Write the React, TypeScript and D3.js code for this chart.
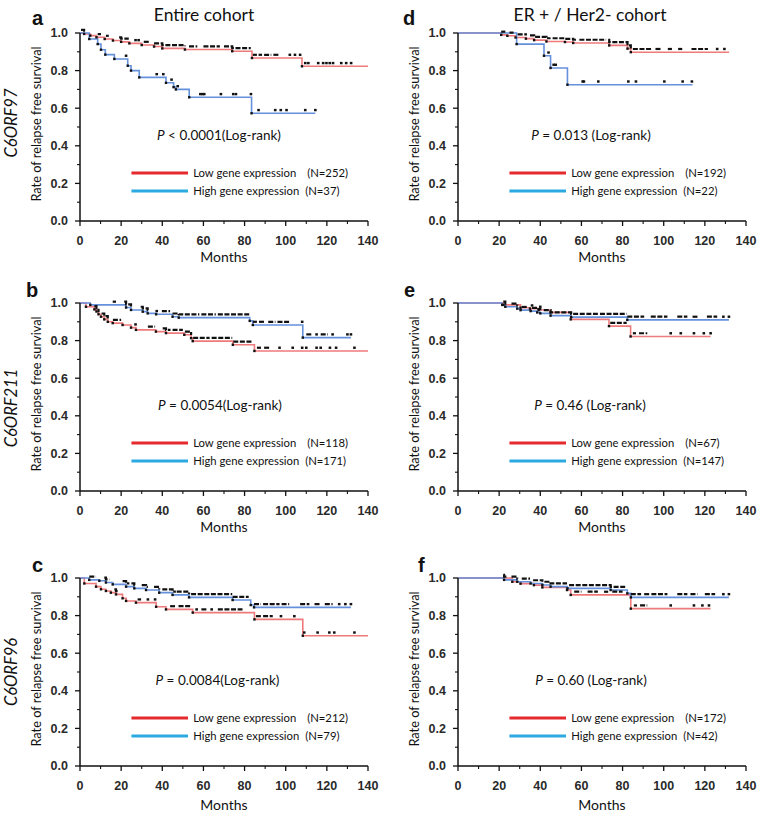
import * as d3 from "d3";

type Pt = [number, number];
type Run = [number, number];

// axis ticks
const MONTH_TICKS = [0, 20, 40, 60, 80, 100, 120, 140];
const MONTH_MINOR = [10, 30, 50, 70, 90, 110, 130];
const RATE_TICKS = [0, 0.2, 0.4, 0.6, 0.8, 1.0];
const RATE_MINOR = [0.1, 0.3, 0.5, 0.7, 0.9];

// ---- a: C6ORF97, entire cohort ----
const A_LOW_STEPS: Pt[] = [[0, 1], [2, 0.995], [5, 0.986], [8, 0.977], [12, 0.968], [16, 0.96], [20, 0.953], [24, 0.945], [30, 0.936], [36, 0.928], [40, 0.918], [51, 0.912], [74, 0.903], [83.6, 0.867], [107.9, 0.823]];
const A_LOW_RUNS: Run[] = [[0.5, 3], [8.6, 10.2], [12.6, 14], [19, 23.7], [31, 34], [36, 51], [53, 57], [60, 68], [70, 83], [84, 86], [86.8, 88.5], [89.5, 93], [94, 97]];
const A_LOW_MARKS = [27, 28.5, 102, 104.5, 107, 109.5, 111, 115.8, 118.2, 119.8, 121.4, 123, 127, 129.4, 131.8];
const A_HIGH_STEPS: Pt[] = [[0, 1], [4.5, 0.968], [8.6, 0.941], [10.2, 0.911], [12.3, 0.885], [16.7, 0.862], [23.2, 0.826], [24.8, 0.8], [28.8, 0.764], [41.8, 0.735], [45.5, 0.712], [46.6, 0.7], [53.1, 0.658], [83.4, 0.573]];
const A_HIGH_RUNS: Run[] = [];
const A_HIGH_MARKS = [22.4, 37.3, 40.5, 44.5, 47.5, 58.5, 59.5, 60.4, 68.5, 74.5, 75.8, 83.1, 86.8, 94.9, 97.6, 100.4, 109.5, 114.4];

// ---- b: C6ORF211, entire cohort ----
const B_LOW_STEPS: Pt[] = [[0, 1], [2.9, 0.98], [7, 0.966], [8, 0.955], [9, 0.94], [10.2, 0.927], [11.8, 0.913], [13.5, 0.9], [15.9, 0.893], [20.7, 0.883], [24.8, 0.869], [27.2, 0.857], [36.9, 0.848], [41.8, 0.84], [50.7, 0.831], [54, 0.813], [54.8, 0.797], [74.3, 0.778], [84.8, 0.745]];
const B_LOW_RUNS: Run[] = [[7, 9.5], [10.5, 13.5], [16, 20], [33, 36.5], [40.2, 44], [45, 50], [51, 54], [55, 63], [64, 74], [74.5, 84], [86, 88], [89.5, 92]];
const B_LOW_MARKS = [27, 97, 103.4, 108, 110, 115, 117, 121.5, 124.5, 133.4];
const B_HIGH_STEPS: Pt[] = [[0, 1], [5, 0.99], [22.4, 0.976], [24.8, 0.963], [30.5, 0.954], [32.9, 0.945], [37, 0.94], [45, 0.927], [48, 0.922], [82.5, 0.905], [84, 0.883], [108.3, 0.816]];
const B_HIGH_RUNS: Run[] = [[15.9, 17.5], [21.5, 25], [29.5, 33], [39.8, 43.8], [45, 58], [59, 66], [67, 82.3], [84, 86], [87, 90], [91.5, 95], [96, 101.7], [110, 113], [117, 120.5]];
const B_HIGH_MARKS = [37.3, 108, 115, 122.8, 130, 131.7];

// ---- c: C6ORF96, entire cohort ----
const C_LOW_STEPS: Pt[] = [[0, 1], [2.1, 0.971], [7.8, 0.954], [10.2, 0.94], [12.6, 0.931], [15, 0.922], [17.5, 0.913], [20.7, 0.892], [22.4, 0.878], [27.2, 0.869], [37, 0.847], [41.8, 0.833], [54.8, 0.816], [84.8, 0.78], [108.3, 0.693]];
const C_LOW_RUNS: Run[] = [[16.7, 18.3], [28, 29.7], [43.8, 46.2], [47.9, 54.3], [59, 62], [67, 79], [85.5, 88], [89, 93.7]];
const C_LOW_MARKS = [33, 36.5, 56.7, 64, 97.7, 104.2, 109, 115.5, 121.2, 123.6, 133.4];
const C_HIGH_STEPS: Pt[] = [[0, 1], [4.5, 0.99], [9.4, 0.985], [12.6, 0.976], [15.9, 0.966], [22.4, 0.954], [26.4, 0.945], [32.1, 0.936], [38.5, 0.922], [45, 0.91], [53, 0.897], [74.2, 0.883], [83, 0.856], [84.6, 0.844]];
const C_HIGH_RUNS: Run[] = [[4.5, 7.8], [11.8, 14.3], [20.7, 24], [25, 27], [30, 33], [36, 38.5], [40, 46.6], [47, 53], [54, 74], [74.2, 82], [84.6, 88], [89, 97], [98, 101.7], [107, 111.5], [114, 117], [119, 122.8]];
const C_HIGH_MARKS = [126, 129, 131.7];

// ---- d: C6ORF97, ER+/Her2- ----
const D_LOW_STEPS: Pt[] = [[0, 1], [21, 0.99], [24, 0.985], [28, 0.976], [33, 0.97], [37, 0.962], [43, 0.955], [52, 0.952], [56, 0.947], [73.5, 0.934], [82.4, 0.917], [84, 0.898]];
const D_LOW_RUNS: Run[] = [[21, 23], [25, 27], [29, 33], [35, 45], [46, 58], [59, 72], [73, 84], [85, 94.5], [96, 99], [102, 104], [107, 109], [113.5, 121.5]];
const D_LOW_MARKS = [126, 129.5];
const D_HIGH_STEPS: Pt[] = [[0, 1], [28.5, 0.941], [41.8, 0.879], [45, 0.814], [53.2, 0.725]];
const D_HIGH_RUNS: Run[] = [];
const D_HIGH_MARKS = [44, 46.5, 47.5, 60.6, 61.2, 68.2, 82.8, 86.5, 100.3, 109.2, 113.7];

// ---- e: C6ORF211, ER+/Her2- ----
const E_LOW_STEPS: Pt[] = [[0, 1], [22, 0.99], [30.4, 0.975], [35, 0.97], [39.3, 0.963], [45, 0.95], [54.8, 0.913], [73.4, 0.877], [83.9, 0.822]];
const E_LOW_RUNS: Run[] = [[74, 82], [85, 86.5], [88, 92]];
const E_LOW_MARKS = [36, 40, 103.4, 108.3, 114.7, 119.5, 122.8];
const E_HIGH_STEPS: Pt[] = [[0, 1], [21.5, 0.99], [23, 0.98], [28.8, 0.97], [30.4, 0.962], [35.3, 0.957], [38.5, 0.95], [40, 0.945], [45, 0.933], [55, 0.925], [82.3, 0.91]];
const E_HIGH_RUNS: Run[] = [[22, 24], [26, 29], [31, 34], [36, 40], [41.7, 53], [53.5, 68], [69, 82], [82.3, 90.5], [93.7, 101.8], [106.6, 111.5], [114, 116.4], [121, 126]];
const E_HIGH_MARKS = [129, 131.7];

// ---- f: C6ORF96, ER+/Her2- ----
const F_LOW_STEPS: Pt[] = [[0, 1], [26.4, 0.98], [30.4, 0.97], [36.9, 0.962], [41, 0.95], [53, 0.936], [54.8, 0.91], [84, 0.837]];
const F_LOW_RUNS: Run[] = [[56.5, 60], [63, 68], [71, 73], [75, 80], [85.5, 87], [88.5, 92]];
const F_LOW_MARKS = [103.4, 114.7, 118.8, 122];
const F_HIGH_STEPS: Pt[] = [[0, 1], [22.4, 0.99], [28.8, 0.98], [35.3, 0.971], [41, 0.963], [45, 0.954], [53.2, 0.945], [74.2, 0.936], [82.3, 0.918], [84, 0.897]];
const F_HIGH_RUNS: Run[] = [[22, 24], [26, 29], [31, 35], [36.5, 41], [42, 53], [54, 82], [84, 89], [90.5, 93], [94, 101.8], [106.6, 111.5], [113, 116.4], [120, 125]];
const F_HIGH_MARKS = [129, 131.7];

// last follow-up month of each curve
const CURVE_ENDS = { a: [140, 114.4], b: [140, 131.7], c: [140, 131.7], d: [131.8, 114], e: [122.8, 131.7], f: [122.8, 131.7] };
const GROUP_N = { a: [252, 37], b: [118, 171], c: [212, 79], d: [192, 22], e: [67, 147], f: [172, 42] };
const P_TEXT = { a: "< 0.0001(Log-rank)", b: "= 0.0054(Log-rank)", c: "= 0.0084(Log-rank)", d: "= 0.013 (Log-rank)", e: "= 0.46 (Log-rank)", f: "= 0.60 (Log-rank)" };
const GENES = ["C6ORF97", "C6ORF211", "C6ORF96"];
const COHORTS = ["Entire cohort", "ER + / Her2- cohort"];

const W = 758, H = 814;
const PW = 288, PH = 188;
const COL_X = [80, 458];
const ROW_Y = [33, 303, 578];

const RED = "#ee7a7c", BLUE = "#6590dc";
const LEG_RED = "#e52a2f", LEG_BLUE = "#2ca9e1";
const SANS = "Lato, 'Open Sans', sans-serif";
const ARIAL = "'Liberation Sans', Arial, sans-serif";

type Series = { steps: Pt[]; runs: Run[]; marks: number[]; end: number };

const x = d3.scaleLinear().domain([0, 140]).range([0, PW]);
const y = d3.scaleLinear().domain([0, 1]).range([PH, 0]);
const stepLine = d3.line<Pt>().x(d => x(d[0])).y(d => y(d[1])).curve(d3.curveStepAfter);

const levelAt = (steps: Pt[], t: number) => {
  let v = steps[0][1];
  for (const [m, s] of steps) if (m <= t) v = s;
  return v;
};

function Curve({ s, color }: { s: Series; color: string }) {
  const pts: Pt[] = [...s.steps, [s.end, s.steps[s.steps.length - 1][1]]];
  return <path d={stepLine(pts) || ""} fill="none" stroke={color} strokeWidth={1.6} />;
}

function Censors({ s }: { s: Series }) {
  const off = -3.2;
  return (
    <g>
      {s.runs.map(([a, b], i) => {
        const pts: Pt[] = [[a, levelAt(s.steps, a)], ...s.steps.filter(([m]) => m > a && m < b), [b, levelAt(s.steps, b)]];
        return <path key={"r" + i} d={stepLine(pts) || ""} transform={`translate(0,${off})`} fill="none" stroke="#111" strokeWidth={2.2} strokeDasharray="5 1.6" />;
      })}
      {s.marks.map((m, i) => (
        <rect key={"m" + i} x={x(m) - 1.3} y={y(levelAt(s.steps, m)) + off - 1.2} width={2.6} height={2.4} fill="#111" />
      ))}
      {s.steps.slice(1).map(([m, v], i) => (
        <rect key={"e" + i} x={x(m) - 1.2} y={y(v) - 1.2} width={2.4} height={2.4} fill="#111" />
      ))}
    </g>
  );
}

type PanelProps = {
  id: "a" | "b" | "c" | "d" | "e" | "f";
  col: number; row: number;
  low: Series; high: Series;
  letterDx: number; pDx: number; geneDy: number;
};

function Panel({ id, col, row, low, high, letterDx, pDx, geneDy }: PanelProps) {
  const left = COL_X[col], top = ROW_Y[row];
  const [nLow, nHigh] = GROUP_N[id];
  const legX1 = x(25), legX2 = x(52.5), legT = x(55);
  return (
    <g transform={`translate(${left},${top})`}>
      <text x={letterDx} y={row === 0 ? -8 : -6} fontFamily={ARIAL} fontWeight="bold" fontSize={20} fill="#111">{id}</text>
      {col === 0 && (
        <text transform={`translate(-63,${geneDy}) rotate(-90)`} textAnchor="middle" fontFamily={SANS} fontStyle="italic" fontSize={16.5} fill="#111">{GENES[row]}</text>
      )}
      <text transform={`translate(-39,${PH / 2 - 3}) rotate(-90)`} textAnchor="middle" fontFamily={SANS} fontSize={12.8} fill="#111">Rate of relapse free survival</text>

      {/* curves */}
      <Curve s={low} color={RED} />
      <Curve s={high} color={BLUE} />
      <Censors s={low} />
      <Censors s={high} />

      {/* axes */}
      <line x1={0} x2={0} y1={0} y2={PH} stroke="#111" strokeWidth={1.5} />
      <line x1={0} x2={PW} y1={PH} y2={PH} stroke="#111" strokeWidth={1.5} />
      {RATE_TICKS.map(t => (
        <g key={"y" + t}>
          <line x1={-5} x2={0} y1={y(t)} y2={y(t)} stroke="#111" strokeWidth={1.3} />
          <text x={-12} y={y(t)} dy="0.35em" textAnchor="end" fontFamily={ARIAL} fontWeight="bold" fontSize={12.5} fill="#2a2a2a">{t.toFixed(1)}</text>
        </g>
      ))}
      {RATE_MINOR.map(t => <line key={"ym" + t} x1={-3} x2={0} y1={y(t)} y2={y(t)} stroke="#111" strokeWidth={1.1} />)}
      {MONTH_TICKS.map(t => (
        <g key={"x" + t}>
          <line x1={x(t)} x2={x(t)} y1={PH} y2={PH + 5} stroke="#111" strokeWidth={1.3} />
          <text x={x(t)} y={PH + 24} textAnchor="middle" fontFamily={ARIAL} fontWeight="bold" fontSize={12.5} fill="#2a2a2a">{t}</text>
        </g>
      ))}
      {MONTH_MINOR.map(t => <line key={"xm" + t} x1={x(t)} x2={x(t)} y1={PH} y2={PH + 3} stroke="#111" strokeWidth={1.1} />)}
      <text x={PW / 2} y={PH + (row === 2 ? 44 : 41)} textAnchor="middle" fontFamily={SANS} fontSize={14} fill="#111">Months</text>

      {/* p value */}
      <text x={pDx} y={107} textAnchor="middle" fontFamily={SANS} fontSize={13.5} fill="#111">
        <tspan fontStyle="italic">P</tspan> {P_TEXT[id]}
      </text>

      {/* legend */}
      <line x1={legX1} x2={legX2} y1={y(0.255)} y2={y(0.255)} stroke={LEG_RED} strokeWidth={3} />
      <line x1={legX1} x2={legX2} y1={y(0.16)} y2={y(0.16)} stroke={LEG_BLUE} strokeWidth={3} />
      <text x={legT} y={y(0.255)} dy="0.35em" fontFamily={SANS} fontSize={11.3} fill="#111">Low gene expression</text>
      <text x={legT + 114} y={y(0.255)} dy="0.35em" fontFamily={SANS} fontSize={11.3} fill="#111">{`(N=${nLow})`}</text>
      <text x={legT} y={y(0.16)} dy="0.35em" fontFamily={SANS} fontSize={11.3} fill="#111">High gene expression</text>
      <text x={legT + 112} y={y(0.16)} dy="0.35em" fontFamily={SANS} fontSize={11.3} fill="#111">{`(N=${nHigh})`}</text>
    </g>
  );
}

const mk = (steps: Pt[], runs: Run[], marks: number[], end: number): Series => ({ steps, runs, marks, end });

export default function App() {
  return (
    <div style={{ position: "absolute", left: 0, top: 0, width: W, height: H, background: "#fff" }}>
      <svg width={W} height={H} style={{ display: "block" }}>
        <rect width={W} height={H} fill="#fff" />
        <text x={204} y={21} textAnchor="middle" fontFamily={SANS} fontSize={17.5} fill="#111">{COHORTS[0]}</text>
        <text x={590} y={21} textAnchor="middle" fontFamily={SANS} fontSize={17.5} fill="#111">{COHORTS[1]}</text>

        <Panel id="a" col={0} row={0} letterDx={-48} pDx={139} geneDy={90}
          low={mk(A_LOW_STEPS, A_LOW_RUNS, A_LOW_MARKS, CURVE_ENDS.a[0])}
          high={mk(A_HIGH_STEPS, A_HIGH_RUNS, A_HIGH_MARKS, CURVE_ENDS.a[1])} />
        <Panel id="b" col={0} row={1} letterDx={-54} pDx={140} geneDy={105}
          low={mk(B_LOW_STEPS, B_LOW_RUNS, B_LOW_MARKS, CURVE_ENDS.b[0])}
          high={mk(B_HIGH_STEPS, B_HIGH_RUNS, B_HIGH_MARKS, CURVE_ENDS.b[1])} />
        <Panel id="c" col={0} row={2} letterDx={-48} pDx={137.5} geneDy={94}
          low={mk(C_LOW_STEPS, C_LOW_RUNS, C_LOW_MARKS, CURVE_ENDS.c[0])}
          high={mk(C_HIGH_STEPS, C_HIGH_RUNS, C_HIGH_MARKS, CURVE_ENDS.c[1])} />
        <Panel id="d" col={1} row={0} letterDx={-55} pDx={133} geneDy={0}
          low={mk(D_LOW_STEPS, D_LOW_RUNS, D_LOW_MARKS, CURVE_ENDS.d[0])}
          high={mk(D_HIGH_STEPS, D_HIGH_RUNS, D_HIGH_MARKS, CURVE_ENDS.d[1])} />
        <Panel id="e" col={1} row={1} letterDx={-54} pDx={132} geneDy={0}
          low={mk(E_LOW_STEPS, E_LOW_RUNS, E_LOW_MARKS, CURVE_ENDS.e[0])}
          high={mk(E_HIGH_STEPS, E_HIGH_RUNS, E_HIGH_MARKS, CURVE_ENDS.e[1])} />
        <Panel id="f" col={1} row={2} letterDx={-40} pDx={133} geneDy={0}
          low={mk(F_LOW_STEPS, F_LOW_RUNS, F_LOW_MARKS, CURVE_ENDS.f[0])}
          high={mk(F_HIGH_STEPS, F_HIGH_RUNS, F_HIGH_MARKS, CURVE_ENDS.f[1])} />
      </svg>
    </div>
  );
}
